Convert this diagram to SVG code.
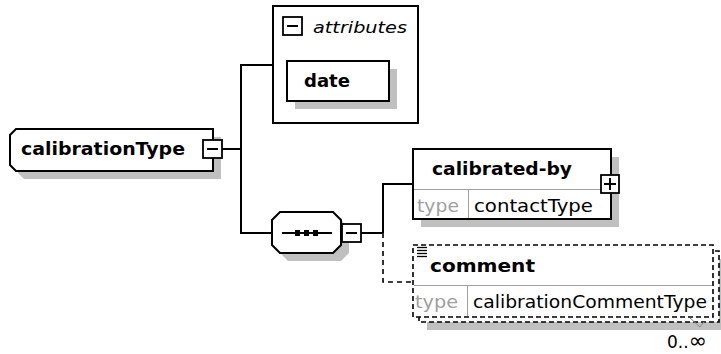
<svg xmlns="http://www.w3.org/2000/svg" width="721" height="354" viewBox="0 0 721 354">
<style>
.bg{fill:#fff}
.box{fill:#fff;stroke:#000;stroke-width:2}
.dbox{fill:#fff;stroke:#000;stroke-width:1.6;stroke-dasharray:5,3}
.shadow{fill:#c0c0c0;stroke:none}
.ln{fill:none;stroke:#000;stroke-width:2}
.dash{fill:none;stroke:#000;stroke-width:1.6;stroke-dasharray:5,4}
.sep{fill:none;stroke:#a0a0a0;stroke-width:1}
.btn{fill:#fff;stroke:#000;stroke-width:1.8}
.b{font-family:"DejaVu Sans","Liberation Sans",sans-serif;font-weight:bold;font-size:18px;fill:#000}
.r{font-family:"DejaVu Sans","Liberation Sans",sans-serif;font-size:17px;fill:#000}
.g{fill:#a0a0a0}
.i{font-family:"DejaVu Sans","Liberation Sans",sans-serif;font-style:italic;font-size:15px;fill:#000}
</style>
<rect class="bg" x="0" y="0" width="721" height="354"/>
<g id="connectors">
  <polyline class="ln" points="222,149 241,149"/>
  <polyline class="ln" points="273,65 241,65 241,233 272,233"/>
  <polyline class="ln" points="361,233 383,233"/>
  <polyline class="ln" points="413,184 383,184 383,233"/>
  <polyline class="dash" points="383,233 383,282 413,282"/>
</g>
<g id="calibrationType">
  <polygon class="shadow" points="24,137 221,137 221,179 24,179 18,173 18,143"/>
  <polygon class="box" points="16,129 213,129 213,171 16,171 10,165 10,135"/>
  <text class="b" x="21" y="155" textLength="164" lengthAdjust="spacingAndGlyphs">calibrationType</text>
  <rect class="btn" x="203" y="140" width="19" height="18"/>
  <line class="ln" x1="207" y1="149" x2="218" y2="149"/>
</g>
<g id="attributes">
  <rect class="box" x="273" y="6" width="145" height="117"/>
  <rect class="btn" x="283" y="17" width="19" height="18"/>
  <line class="ln" x1="287" y1="26" x2="298" y2="26"/>
  <text class="i" x="313" y="33" textLength="94" lengthAdjust="spacingAndGlyphs">attributes</text>
</g>
<g id="date">
  <rect class="shadow" x="295" y="69" width="102" height="40"/>
  <rect class="box" x="287" y="61" width="102" height="40"/>
  <text class="b" x="304" y="87" textLength="46" lengthAdjust="spacingAndGlyphs">date</text>
</g>
<g id="sequence">
  <polygon class="shadow" points="288,220 341,220 349,228 349,253 341,261 288,261 280,253 280,228"/>
  <polygon class="box" points="280,212 333,212 341,220 341,245 333,253 280,253 272,245 272,220"/>
  <line class="ln" x1="282" y1="233" x2="332" y2="233"/>
  <rect x="295" y="230" width="5" height="6" fill="#000"/>
  <rect x="304" y="230" width="5" height="6" fill="#000"/>
  <rect x="313" y="230" width="5" height="6" fill="#000"/>
  <rect class="btn" x="342" y="224" width="19" height="18"/>
  <line class="ln" x1="346" y1="233" x2="357" y2="233"/>
</g>
<g id="calibrated-by">
  <rect class="shadow" x="421" y="157" width="198" height="70"/>
  <rect class="box" x="413" y="149" width="198" height="70"/>
  <line class="sep" x1="414" y1="189.5" x2="610" y2="189.5"/>
  <line class="sep" x1="468.5" y1="190" x2="468.5" y2="218"/>
  <text class="b" x="432" y="175" textLength="140" lengthAdjust="spacingAndGlyphs">calibrated-by</text>
  <text class="r g" x="417" y="212" textLength="42" lengthAdjust="spacingAndGlyphs">type</text>
  <text class="r" x="474" y="212" textLength="119" lengthAdjust="spacingAndGlyphs">contactType</text>
  <rect class="btn" x="601" y="175" width="18" height="18"/>
  <line class="ln" x1="604" y1="184" x2="616" y2="184"/>
  <line class="ln" x1="610" y1="178" x2="610" y2="190"/>
</g>
<g id="comment">
  <rect class="shadow" x="427" y="259" width="300" height="71"/>
  <rect class="dbox" x="419" y="251" width="300" height="71"/>
  <rect class="dbox" x="413" y="245" width="300" height="72"/>
  <line class="sep" x1="414" y1="285.5" x2="712" y2="285.5"/>
  <line class="sep" x1="467.5" y1="286" x2="467.5" y2="316"/>
  <g stroke="#000" stroke-width="1.3">
    <line x1="417" y1="247.5" x2="427" y2="247.5"/>
    <line x1="417" y1="250.5" x2="427" y2="250.5"/>
    <line x1="417" y1="253.5" x2="427" y2="253.5"/>
    <line x1="417" y1="256.5" x2="427" y2="256.5"/>
  </g>
  <text class="b" x="430" y="272" textLength="105" lengthAdjust="spacingAndGlyphs">comment</text>
  <text class="r g" x="415" y="308" textLength="43" lengthAdjust="spacingAndGlyphs">type</text>
  <text class="r" x="473" y="308" textLength="234" lengthAdjust="spacingAndGlyphs">calibrationCommentType</text>
  <polyline points="690,318 700,327 704,322" fill="none" stroke="#888" stroke-width="1"/>
  <text class="r" x="667" y="348">0..<tspan font-size="22">∞</tspan></text>
</g>
</svg>
